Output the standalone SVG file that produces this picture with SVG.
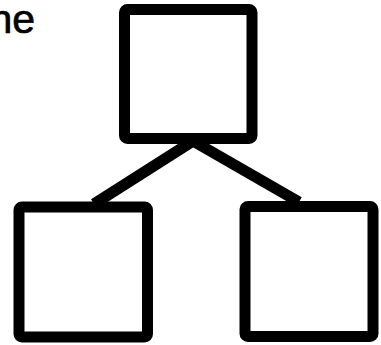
<svg xmlns="http://www.w3.org/2000/svg" width="381" height="345" viewBox="0 0 381 345">
<style>
.box{fill:#fff;stroke:#000;stroke-width:11;stroke-linejoin:round}
.conn{stroke:#000;stroke-width:11;stroke-linecap:butt;fill:none}
.lbl{font-family:"Liberation Sans",Arial,sans-serif;font-size:41px;fill:#000;stroke:#000;stroke-width:0.7}
</style>
<rect width="381" height="345" fill="#fff"/>
<text class="lbl" x="35" y="33" text-anchor="end">ne</text>
<g id="connectors">
<line class="conn" x1="193" y1="141" x2="94" y2="204"/>
<line class="conn" x1="193" y1="141" x2="299" y2="202"/>
</g>
<g id="node-top"><rect class="box" x="124.5" y="9.5" width="127.5" height="129" rx="3"/></g>
<g id="node-left"><rect class="box" x="19" y="207" width="128.5" height="130" rx="3"/></g>
<g id="node-right"><rect class="box" x="245" y="206.5" width="128" height="130" rx="3"/></g>
</svg>
